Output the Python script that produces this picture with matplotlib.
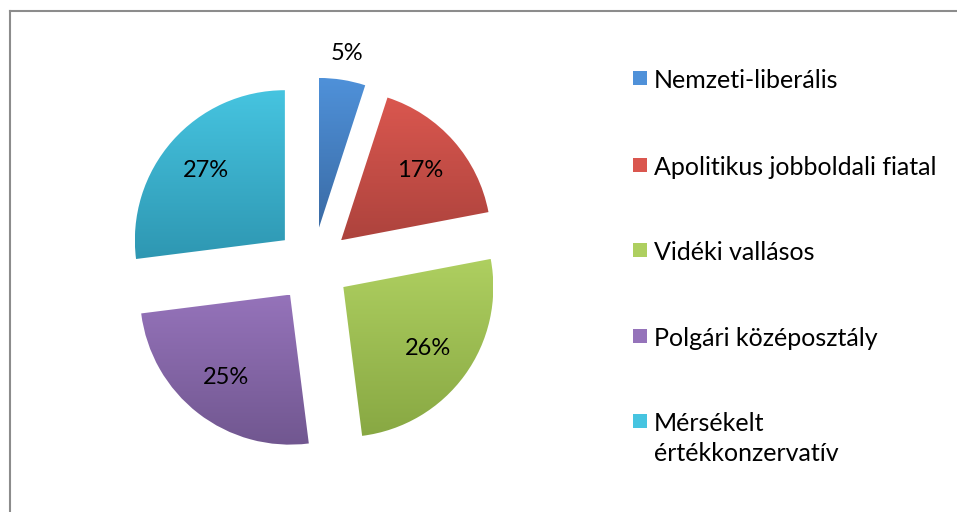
import numpy as np
import matplotlib.pyplot as plt
from matplotlib.patches import Rectangle
from matplotlib.lines import Line2D
from matplotlib.colors import LinearSegmentedColormap

# chart data
labels = ['Nemzeti-liberális', 'Apolitikus jobboldali fiatal', 'Vidéki vallásos',
          'Polgári középosztály', 'Mérsékelt\nértékkonzervatív']
shares = [5, 17, 26, 25, 27]

# slice gradients (top -> bottom)
top_colors = ['#4F91D9', '#DA574F', '#AECF60', '#9573BA', '#46C4E0']
bottom_colors = ['#3A6BA5', '#AD433D', '#88A843', '#715790', '#2E97B2']

W, H = 957, 512
plt.rcParams['font.family'] = ['Lato', 'DejaVu Sans']

fig = plt.figure(figsize=(W / 100, H / 100), dpi=100)
fig.patch.set_facecolor('white')

# pie centre at (313, 265) px, radius ~150 px
ax = fig.add_axes([106 / W, 40 / H, 414 / W, 414 / H])
wedges, texts, pcts = ax.pie(shares, startangle=90, counterclock=False,
                             explode=[0.25] * len(shares), autopct='%.0f%%',
                             pctdistance=0.7,
                             textprops=dict(fontsize=17, color='black'),
                             wedgeprops=dict(linewidth=0))

# gradient fill clipped to each wedge
for w, c_top, c_bot in zip(wedges, top_colors, bottom_colors):
    bb = w.get_path().get_extents()
    cmap = LinearSegmentedColormap.from_list('g', [c_bot, c_top])
    grad = np.linspace(0, 1, 256).reshape(-1, 1)
    im = ax.imshow(grad, cmap=cmap, origin='lower', aspect='auto',
                   extent=(bb.x0, bb.x1, bb.y0, bb.y1), zorder=1)
    im.set_clip_path(w)
    w.set_facecolor('none')

# small slice label sits outside
w0 = wedges[0]
ang = np.deg2rad((w0.theta1 + w0.theta2) / 2)
cx, cy = w0.center
pcts[0].set_position((cx + 1.18 * np.cos(ang), cy + 1.18 * np.sin(ang)))

for t in pcts:
    t.set_zorder(5)

ax.set_xlim(-1.38, 1.38)
ax.set_ylim(-1.38, 1.38)
ax.set_aspect('equal')
ax.axis('off')

# legend (square centre y in px, text baseline 10 px lower, 30 px per line)
leg_y = [78, 165, 250, 336, 421]
for lab, c_top, y in zip(labels, top_colors, leg_y):
    fig.add_artist(Rectangle((633 / W, 1 - (y + 7) / H), 14 / W, 14 / H,
                             transform=fig.transFigure, facecolor=c_top,
                             edgecolor='none'))
    for j, line in enumerate(lab.split('\n')):
        fig.text(654 / W, 1 - (y + 10 + 30 * j) / H, line, fontsize=18,
                 va='baseline', ha='left')

# chart frame
fig.add_artist(Line2D([9.5 / W, 9.5 / W], [0, 1 - 11 / H], transform=fig.transFigure,
                      color='#8C8C8C', linewidth=1.5))
fig.add_artist(Line2D([9.5 / W, 1], [1 - 11 / H, 1 - 11 / H], transform=fig.transFigure,
                      color='#8C8C8C', linewidth=1.5))

fig.savefig('out.png', dpi=100)
